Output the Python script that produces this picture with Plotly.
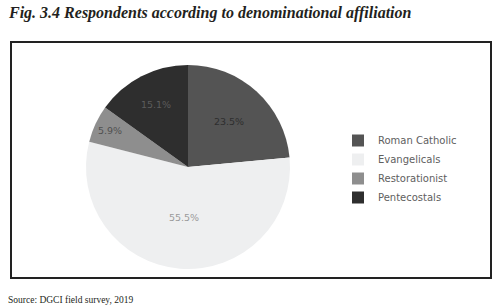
import plotly.graph_objects as go

categories = ["Roman Catholic", "Evangelicals", "Restorationist", "Pentecostals"]
values = [23.5, 55.5, 5.9, 15.1]
colors = ["#545454", "#eeeff0", "#8e8e8e", "#2e2e2e"]
text_colors = ["#2e2e2e", "#9a9a9a", "#505050", "#5c5c5c"]

W, H = 498, 307
cx, cy, r = 188, 167, 102

fig = go.Figure(go.Pie(
    labels=categories,
    values=values,
    sort=False,
    direction="clockwise",
    rotation=0,
    marker=dict(colors=colors, line=dict(width=0)),
    texttemplate="%{value:.1f}%",
    textposition="inside",
    insidetextorientation="horizontal",
    textfont=dict(family="DejaVu Sans", size=9.5, color=text_colors),
    domain=dict(x=[(cx - r) / W, (cx + r) / W], y=[(H - cy - r) / H, (H - cy + r) / H]),
    hoverinfo="skip",
))

fig.update_layout(
    width=W, height=H,
    margin=dict(l=0, r=0, t=0, b=0),
    paper_bgcolor="white",
    plot_bgcolor="white",
    showlegend=True,
    legend=dict(
        x=338 / W, y=1 - 126 / H, xanchor="left", yanchor="top",
        font=dict(family="DejaVu Sans", size=10, color="#606060"),
        itemwidth=30, tracegroupgap=0,
        bgcolor="rgba(0,0,0,0)",
    ),
    shapes=[dict(type="rect", xref="paper", yref="paper",
                 x0=11 / W, x1=491 / W, y0=1 - 278 / H, y1=1 - 42 / H,
                 line=dict(color="#222222", width=2), fillcolor="rgba(0,0,0,0)")],
    annotations=[
        dict(text="<b><i>Fig. 3.4 Respondents according to denominational affiliation</i></b>",
             x=6 / W, y=1 - 13 / H, xref="paper", yref="paper", xanchor="left", yanchor="middle",
             showarrow=False, font=dict(family="Liberation Serif", size=16, color="#231f20")),
        dict(text="Source: DGCI field survey, 2019",
             x=6 / W, y=1 - 300 / H, xref="paper", yref="paper", xanchor="left", yanchor="middle",
             showarrow=False, font=dict(family="Liberation Serif", size=9.5, color="#231f20")),
    ],
)

fig.write_html("out.html", config={"displayModeBar": False},
               post_script="document.body.style.margin='0';")
